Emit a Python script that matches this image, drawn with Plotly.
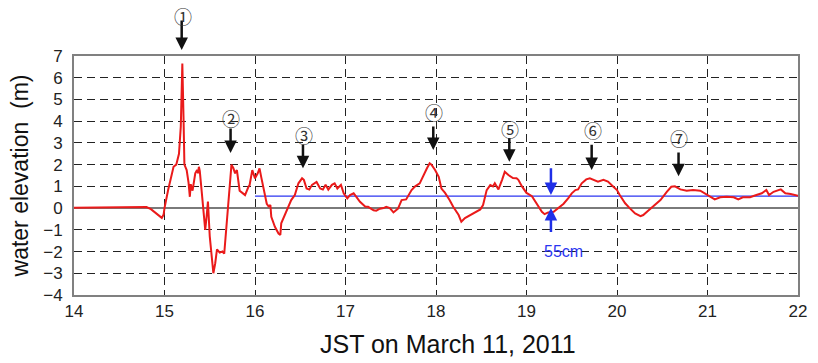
import plotly.graph_objects as go

# ---- data -------------------------------------------------------------
hours = [
    14.00, 14.20, 14.25, 14.35, 14.55, 14.80, 14.85, 14.90, 14.95, 14.97,
    14.99, 15.00, 15.04, 15.08, 15.10, 15.13, 15.16, 15.18, 15.19, 15.197,
    15.21, 15.22, 15.245, 15.265, 15.28, 15.29, 15.31, 15.34, 15.36, 15.37,
    15.38, 15.39, 15.41, 15.43, 15.45, 15.465, 15.48, 15.50, 15.52, 15.54,
    15.56, 15.58, 15.61, 15.64, 15.66, 15.69, 15.72, 15.74, 15.76, 15.78,
    15.80, 15.81, 15.83, 15.86, 15.89, 15.93, 15.94, 15.97, 16.00, 16.03,
    16.05, 16.07, 16.09, 16.13, 16.15, 16.17, 16.18, 16.22, 16.26, 16.28,
    16.29, 16.33, 16.37, 16.40, 16.44, 16.48, 16.52, 16.54, 16.57, 16.60,
    16.63, 16.68, 16.72, 16.75, 16.78, 16.81, 16.85, 16.88, 16.91, 16.95,
    16.98, 17.02, 17.05, 17.09, 17.12, 17.16, 17.22, 17.25, 17.31, 17.34,
    17.38, 17.42, 17.45, 17.49, 17.53, 17.58, 17.62, 17.67, 17.73, 17.77,
    17.82, 17.86, 17.90, 17.93, 17.95, 17.99, 18.03, 18.06, 18.10, 18.15,
    18.19, 18.25, 18.28, 18.32, 18.38, 18.45, 18.49, 18.52, 18.56, 18.60,
    18.63, 18.65, 18.69, 18.73, 18.76, 18.80, 18.85, 18.89, 18.91, 18.95,
    19.00, 19.06, 19.11, 19.17, 19.20, 19.24, 19.30, 19.35, 19.41, 19.46,
    19.50, 19.54, 19.57, 19.61, 19.66, 19.70, 19.76, 19.79, 19.85, 19.90,
    19.96, 20.00, 20.03, 20.09, 20.14, 20.20, 20.26, 20.29, 20.35, 20.38,
    20.48, 20.55, 20.60, 20.64, 20.70, 20.77, 20.84, 20.92, 20.97, 21.03,
    21.08, 21.14, 21.21, 21.29, 21.34, 21.39, 21.47, 21.54, 21.60, 21.65,
    21.68, 21.73, 21.78, 21.81, 21.86, 21.92, 22.00,
]
elevation = [
    0.02, 0.03, 0.00, 0.02, 0.03, 0.05, -0.05, -0.20, -0.38, -0.45,
    -0.30, 0.00, 0.83, 1.60, 1.90, 2.00, 2.50, 3.75, 5.75, 6.65,
    4.20, 2.00, 1.75, 1.20, 0.52, 1.10, 0.80, 1.60, 1.75, 1.60,
    1.90, 1.70, 0.80, 0.00, -1.00, -0.40, 0.30, -1.30, -2.20, -3.00,
    -2.55, -1.90, -2.05, -2.00, -2.10, -0.55, 1.10, 2.00, 1.85, 1.60,
    1.75, 1.50, 0.80, 0.70, 0.60, 1.00, 1.05, 1.75, 1.37, 1.60,
    1.83, 1.40, 1.00, 0.20, 0.08, 0.14, -0.40, -0.86, -1.17, -1.24,
    -0.70, -0.32, 0.08, 0.37, 0.60, 1.14, 1.37, 1.30, 0.90, 0.85,
    1.07, 1.20, 0.90, 0.85, 1.07, 0.85, 1.07, 1.14, 0.90, 1.07,
    0.68, 0.45, 0.60, 0.68, 0.52, 0.29, 0.06, 0.06, -0.10, -0.12,
    -0.03, 0.00, 0.06, 0.00, -0.20, -0.02, 0.37, 0.40, 0.83, 1.00,
    1.14, 1.52, 1.83, 2.06, 2.00, 1.75, 1.44, 0.90, 0.70, 0.37,
    0.06, -0.32, -0.63, -0.46, -0.32, -0.17, -0.06, 0.14, 0.83, 1.06,
    1.00, 1.14, 0.86, 1.30, 1.67, 1.52, 1.38, 1.37, 1.30, 1.00,
    0.70, 0.55, 0.25, -0.17, -0.28, -0.20, -0.17, 0.00, 0.20, 0.45,
    0.68, 0.83, 0.86, 1.14, 1.32, 1.37, 1.27, 1.22, 1.30, 1.22,
    0.98, 0.83, 0.60, 0.22, 0.00, -0.25, -0.37, -0.32, -0.10, 0.00,
    0.37, 0.75, 0.98, 1.00, 0.86, 0.80, 0.83, 0.80, 0.68, 0.52,
    0.40, 0.50, 0.52, 0.50, 0.40, 0.50, 0.50, 0.60, 0.68, 0.83,
    0.60, 0.75, 0.83, 0.86, 0.68, 0.65, 0.57,
]

mean_level_x = [16, 22]
mean_level_y = [0.55, 0.55]

x_ticks = [14, 15, 16, 17, 18, 19, 20, 21, 22]
y_ticks = [-4, -3, -2, -1, 0, 1, 2, 3, 4, 5, 6, 7]

wave_labels = ["①", "②", "③", "④", "⑤", "⑥", "⑦"]
wave_x = [15.19, 15.73, 16.53, 17.97, 18.81, 19.72, 20.68]
wave_tip = [7.28, 2.53, 1.83, 2.67, 2.13, 1.75, 1.47]
wave_tail = [8.70, 3.73, 3.00, 3.82, 3.29, 2.98, 2.63]
wave_text_y = [8.85, 4.15, 3.36, 4.44, 3.63, 3.59, 3.24]

offset_x = 19.27
offset_label = "55cm"

# ---- figure -----------------------------------------------------------
FONT = "Liberation Sans, Arial, sans-serif"
Y0, Y1 = -4, 7


def ydom(v):
    """data value -> fraction of the y axis domain (allows values outside range)"""
    return (v - Y0) / (Y1 - Y0)


fig = go.Figure()
fig.add_trace(go.Scatter(
    x=mean_level_x, y=mean_level_y, mode="lines",
    line=dict(color="#2b35f0", width=1.2), hoverinfo="skip", showlegend=False,
))
fig.add_trace(go.Scatter(
    x=hours, y=elevation, mode="lines",
    line=dict(color="#ea1a1a", width=2), showlegend=False,
))

annotations = []
for lab, x, tip, tail, ty in zip(wave_labels, wave_x, wave_tip, wave_tail, wave_text_y):
    annotations.append(dict(
        x=x, y=ydom(tip), ax=x, ay=ydom(tail),
        xref="x", yref="y domain", axref="x", ayref="y domain",
        text="", showarrow=True, arrowhead=2, arrowsize=1, arrowwidth=2.5,
        arrowcolor="#111111",
    ))
    annotations.append(dict(
        x=x + 0.01, y=ydom(ty), xref="x", yref="y domain", text=lab, showarrow=False,
        xanchor="center", yanchor="middle",
        font=dict(family="Noto Sans CJK JP, DejaVu Sans", size=18, color="#333333"),
    ))

# blue 55cm arrows
annotations.append(dict(
    x=offset_x, y=ydom(0.6), ax=offset_x, ay=ydom(1.9),
    xref="x", yref="y domain", axref="x", ayref="y domain",
    text="", showarrow=True, arrowhead=2, arrowsize=1, arrowwidth=2.5, arrowcolor="#1f2fe8",
))
annotations.append(dict(
    x=offset_x, y=ydom(0.0), ax=offset_x, ay=ydom(-1.17),
    xref="x", yref="y domain", axref="x", ayref="y domain",
    text="", showarrow=True, arrowhead=2, arrowsize=1, arrowwidth=2.5, arrowcolor="#1f2fe8",
))
annotations.append(dict(
    x=19.41, y=ydom(-2.0), xref="x", yref="y domain", text=offset_label, showarrow=False,
    xanchor="center", yanchor="middle",
    font=dict(family=FONT, size=16, color="#2b35f0"),
))

# x axis title (placed slightly right of centre as in the reference)
pw, ph = 818 - 74 - 20, 363 - 56 - 68
annotations.append(dict(
    x=(448 - 74) / pw, xref="paper", y=(295 - 344) / ph, yref="paper",
    xanchor="center", yanchor="middle", text="JST on March 11, 2011",
    showarrow=False, font=dict(family=FONT, size=25, color="#111111"),
))

fig.update_layout(
    width=818, height=363,
    margin=dict(l=74, r=20, t=56, b=68),
    paper_bgcolor="white", plot_bgcolor="white",
    font=dict(family=FONT, color="#111111"),
    annotations=annotations,
)

fig.update_xaxes(
    range=[14, 22], tickvals=x_ticks, ticktext=[str(v) for v in x_ticks],
    showgrid=True, gridcolor="#222222", gridwidth=1.2, griddash="8px,5px",
    showline=True, mirror=True, linecolor="#808080", linewidth=1.8,
    ticks="inside", ticklen=5, tickcolor="#222222",
    tickfont=dict(family=FONT, size=17, color="#222222"),
    zeroline=False,
)
fig.update_yaxes(
    range=[Y0, Y1], tickvals=y_ticks,
    ticktext=["\u2212" + str(-v) if v < 0 else str(v) for v in y_ticks],
    showgrid=True, gridcolor="#222222", gridwidth=1.2, griddash="8px,5px",
    showline=True, mirror=True, linecolor="#808080", linewidth=1.8,
    ticks="", ticklabelstandoff=6,
    tickfont=dict(family=FONT, size=17, color="#222222"),
    zeroline=True, zerolinecolor="#7a7a7a", zerolinewidth=2.2,
    title=dict(text="water elevation  (m)", font=dict(family=FONT, size=23, color="#111111"),
               standoff=8),
)

fig.write_html(
    "out.html",
    config={"displayModeBar": False},
    post_script="document.body.style.margin='0';document.body.style.padding='0';",
)
